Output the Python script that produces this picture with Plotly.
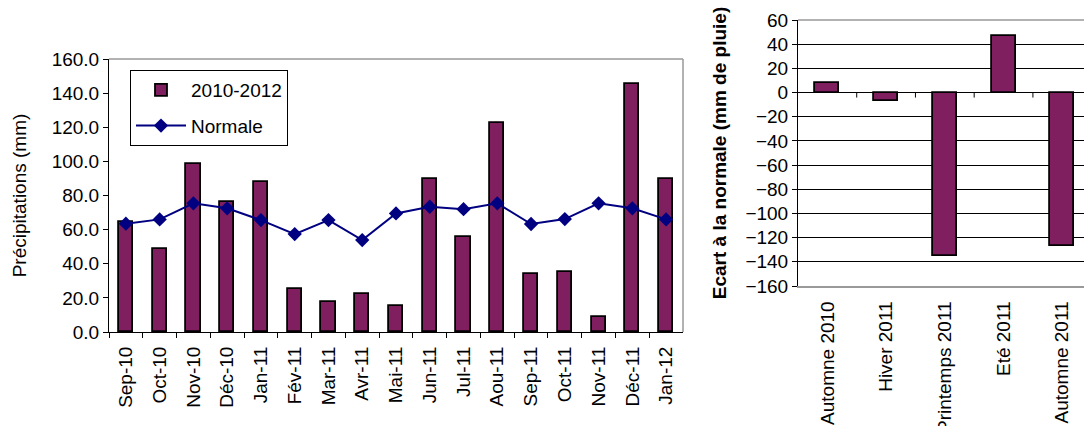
import plotly.graph_objects as go

months = ["Sep-10", "Oct-10", "Nov-10", "Déc-10", "Jan-11", "Fév-11", "Mar-11", "Avr-11",
          "Mai-11", "Jun-11", "Jul-11", "Aou-11", "Sep-11", "Oct-11", "Nov-11", "Déc-11", "Jan-12"]
precip_2010_2012 = [64.6, 48.5, 98.3, 76.0, 88.0, 25.0, 17.5, 22.0, 15.0, 89.5, 55.7, 122.3,
                    34.0, 35.0, 9.0, 145.3, 89.7]
normale = [63.5, 66.0, 75.4, 72.5, 65.6, 57.4, 65.6, 53.9, 69.5, 73.4, 72.0, 75.4,
           63.3, 66.2, 75.4, 72.5, 66.0]

seasons = ["Automne 2010", "Hiver 2011", "Printemps 2011", "Eté 2011", "Automne 2011"]
ecart = [8, -7, -135, 47, -127]

FONT = "Liberation Sans, Arial, sans-serif"
BAR = "#7F1F5F"
NAVY = "#000080"
W, H = 1084, 426
FS = 19

fig = go.Figure()
fig.add_trace(go.Bar(x=months, y=precip_2010_2012, name="2010-2012", width=0.42,
                     marker=dict(color=BAR, line=dict(color="black", width=1.8)),
                     xaxis="x", yaxis="y", legendgroup="a"))
fig.add_trace(go.Scatter(x=months, y=normale, name="Normale", mode="lines+markers",
                         line=dict(color=NAVY, width=2),
                         marker=dict(symbol="diamond", size=11, color=NAVY),
                         xaxis="x", yaxis="y", legendgroup="b"))
fig.add_trace(go.Bar(x=seasons, y=ecart, width=0.41, showlegend=False,
                     marker=dict(color=BAR, line=dict(color="black", width=1.8)),
                     xaxis="x2", yaxis="y2"))

tickfont = dict(family=FONT, size=FS, color="black")

shapes = [
    dict(type="line", xref="x domain", yref="y domain", x0=0, x1=1, y0=1, y1=1,
         line=dict(color="#999999", width=1.5)),
    dict(type="line", xref="x domain", yref="y domain", x0=1, x1=1, y0=0, y1=1,
         line=dict(color="#999999", width=1.5)),
    dict(type="line", xref="x2 domain", yref="y2 domain", x0=0, x1=1, y0=1, y1=1,
         line=dict(color="#999999", width=1.5), layer="above"),
]
for k in range(len(seasons) - 1):
    shapes.append(dict(type="line", xref="x2", yref="y2", x0=k + 0.5, x1=k + 0.5,
                       ysizemode="pixel", yanchor=0, y0=0, y1=-5,
                       line=dict(color="black", width=1)))

fig.update_layout(
    width=W, height=H, autosize=False,
    margin=dict(l=0, r=0, t=0, b=0, autoexpand=False),
    paper_bgcolor="white", plot_bgcolor="white",
    font=dict(family=FONT, size=FS, color="black"),
    bargap=0,
    showlegend=True,
    legend=dict(x=130 / W, y=1 - 70 / H, xanchor="left", yanchor="top",
                bgcolor="white", bordercolor="black", borderwidth=1,
                font=dict(family=FONT, size=FS, color="black"),
                traceorder="grouped", tracegroupgap=8, itemwidth=50),
    xaxis=dict(domain=[109 / W, 683 / W], anchor="y", type="category", automargin=False,
               range=[-0.5, 16.5], tickson="boundaries", ticks="outside", ticklen=5,
               tickcolor="black", showline=True, linecolor="black", linewidth=1,
               showgrid=False, tickangle=-90, tickfont=tickfont, ticklabelstandoff=6),
    yaxis=dict(domain=[1 - 332 / H, 1 - 59 / H], anchor="x", range=[0, 160], dtick=20,
               automargin=False,
               tickformat=".1f", ticks="outside", ticklen=5, tickcolor="black",
               showline=True, linecolor="black", linewidth=1, showgrid=False,
               zeroline=False, tickfont=tickfont,
               title=dict(text="Précipitations (mm)", standoff=20,
                          font=dict(family=FONT, size=FS, color="black"))),
    xaxis2=dict(domain=[798 / W, 1.0], anchor="y2", type="category", automargin=False,
                range=[-0.5, 4.37], ticks="", showline=True, linecolor="#999999",
                linewidth=1.5, showgrid=False, tickangle=-90, tickfont=tickfont,
                ticklabelstandoff=6),
    yaxis2=dict(domain=[1 - 286 / H, 1 - 20 / H], anchor="x2", range=[-160, 60], dtick=20,
                automargin=False,
                ticks="outside", ticklen=5, tickcolor="black", showline=True,
                linecolor="black", linewidth=1, showgrid=True, gridcolor="black",
                gridwidth=1, zeroline=True, zerolinecolor="black", zerolinewidth=1,
                tickfont=tickfont,
                title=dict(text="<b>Ecart à la normale (mm de pluie)</b>", standoff=13,
                           font=dict(family=FONT, size=FS, color="black"))),
    shapes=shapes,
)

fig.write_html("out.html")
